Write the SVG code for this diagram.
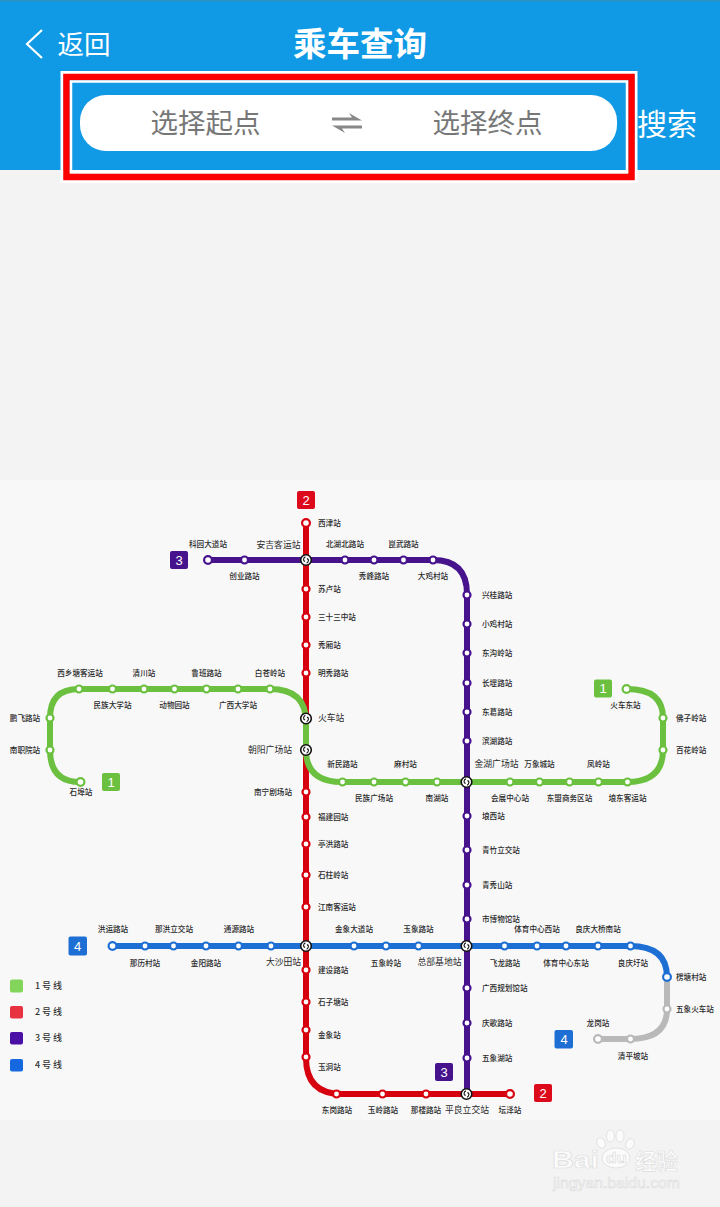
<svg xmlns="http://www.w3.org/2000/svg" width="720" height="1207" viewBox="0 0 720 1207">
<style>
text{font-family:"Noto Sans CJK SC","Liberation Sans",sans-serif;fill:#2a2a2a}
.l,.r,.e{font-size:7.6px;font-weight:500;dominant-baseline:central;transform:translateY(-1px)}
.l{text-anchor:middle}
.r{text-anchor:start}
.e{text-anchor:end}
.big{font-size:8.8px;font-weight:400}
.line{fill:none;stroke-width:6}
.s{stroke-width:2.2;fill:#fff}
.c1{stroke:#6cc040}.c2{stroke:#d7000f}.c3{stroke:#47138c}.c4{stroke:#1e6fd4}.c0{stroke:#b9b9b9}
.x{fill:#fff;stroke:#111;stroke-width:1.6}
.xi{fill:none;stroke:#111;stroke-width:1.1}
.badge{font-size:13px;font-family:"Liberation Sans",sans-serif;fill:#fff;text-anchor:middle;dominant-baseline:central}
.lg{font-size:9px;fill:#333;dominant-baseline:central;font-weight:500;transform:translateY(-1px)}
.hd{fill:#fff;text-anchor:middle;dominant-baseline:central}
.ph{fill:#777;font-size:27.5px;text-anchor:middle;dominant-baseline:central}
.wm{fill:#fbfbfb;stroke:#dcdcdc;stroke-width:.6;dominant-baseline:central}
</style>
<defs>
<g id="xfer"><circle r="5.3" class="x"/><path class="xi" d="M-.6-3.2C-3-2-3 1-.9 1.4M.6 3.2C3 2 3-1 .9-1.4"/></g>
</defs>
<rect width="720" height="1207" fill="#f3f3f3"/>
<rect y="480" width="720" height="640" fill="#f8f8f9"/>
<g id="header">
<rect width="720" height="170" fill="#109ae6"/>
<rect width="720" height="1.500" fill="#2a93c4"/>
<path d="M42 30 27 44 42 58" fill="none" stroke="#fff" stroke-width="2.200"/>
<text class="hd" x="84" y="42" font-size="26.500">返回</text>
<text class="hd" x="360" y="41.500" font-size="33.500" font-weight="700" style="fill:#fff">乘车查询</text>
<text class="hd" x="667" y="122" font-size="30">搜索</text>
</g>
<g id="search-box">
<rect x="62" y="72.500" width="574" height="109" fill="none" stroke="#fff" stroke-width="3"/>
<rect x="66.500" y="77" width="565" height="100" fill="none" stroke="#f00" stroke-width="6.500"/>
<rect x="71" y="81.500" width="556" height="90" fill="none" stroke="#fff" stroke-width="2.500"/>
<rect x="80" y="95" width="537" height="56" rx="26" fill="#fff"/>
<text class="ph" x="205.500" y="121">选择起点</text>
<text class="ph" x="487.500" y="121">选择终点</text>
<path d="M332 117.500H352L349 113 362 120.500H332ZM362 125.500H332L345 133 342 128.500H362Z" fill="#888"/>
</g>
<g id="connectors">
<path class="line c2" d="M306 523V1058Q306 1094 342 1094H510"/>
<path class="line c3" d="M208 560H433Q467 560 467 594V1094"/>
<path class="line c1" d="M80 782Q50 782 50 750V718Q50 689 79 689H270Q306 689 306 722V750Q306 782 342 782H627Q663 782 663 750V718Q663 689 627 689"/>
<path class="line c4" d="M112 946H630Q667 946 667 977"/>
<path class="line c0" d="M667 977V1009Q667 1039 630 1039H598"/>
</g>
<g id="badges">
<g id="badge-2a"><rect x="297" y="491" width="18" height="18" rx="2" fill="#dd0a1c"/><text class="badge" x="306" y="500">2</text></g>
<g id="badge-3a"><rect x="170" y="551" width="18" height="18" rx="2" fill="#47138c"/><text class="badge" x="179" y="560">3</text></g>
<g id="badge-1a"><rect x="102" y="773" width="18" height="18" rx="2" fill="#6cc040"/><text class="badge" x="111" y="782">1</text></g>
<g id="badge-1b"><rect x="594" y="679.500" width="18" height="18" rx="2" fill="#6cc040"/><text class="badge" x="603" y="688.500">1</text></g>
<g id="badge-4a"><rect x="68.500" y="936.500" width="18.500" height="19" rx="2" fill="#1e6fd4"/><text class="badge" x="77.500" y="946">4</text></g>
<g id="badge-4b"><rect x="554.500" y="1030" width="18.500" height="18.500" rx="2" fill="#1e6fd4"/><text class="badge" x="564" y="1039">4</text></g>
<g id="badge-3b"><rect x="435" y="1063" width="18" height="18" rx="2" fill="#47138c"/><text class="badge" x="444" y="1072">3</text></g>
<g id="badge-2b"><rect x="534" y="1084" width="18" height="18" rx="2" fill="#dd0a1c"/><text class="badge" x="543" y="1093">2</text></g>
</g>
<g id="legend">
<rect x="10" y="979.500" width="13" height="13" rx="2" fill="#82d45a"/><text class="lg" x="35" y="986" textLength="27">1 号 线</text>
<rect x="10" y="1006" width="13" height="12.500" rx="2" fill="#e8323f"/><text class="lg" x="35" y="1012.500" textLength="27">2 号 线</text>
<rect x="10" y="1032" width="13" height="12.500" rx="2" fill="#4a0fa5"/><text class="lg" x="35" y="1038.500" textLength="27">3 号 线</text>
<rect x="10" y="1059" width="13" height="12.500" rx="2" fill="#1668e0"/><text class="lg" x="35" y="1065" textLength="27">4 号 线</text>
</g>
<g id="line2-stations">
<g id="st-xijin"><circle class="s c2" cx="306" cy="523" r="3.900"/><text class="r" x="318" y="523">西津站</text></g>
<g id="st-sulu"><circle class="s c2" cx="306" cy="589" r="3.500"/><text class="r" x="318" y="589">苏卢站</text></g>
<g id="st-33"><circle class="s c2" cx="306" cy="617" r="3.500"/><text class="r" x="318" y="617">三十三中站</text></g>
<g id="st-xiuxiang"><circle class="s c2" cx="306" cy="645" r="3.500"/><text class="r" x="318" y="645">秀厢站</text></g>
<g id="st-mingxiu"><circle class="s c2" cx="306" cy="673" r="3.500"/><text class="r" x="318" y="673">明秀路站</text></g>
<g id="st-juchang"><circle class="s c2" cx="306" cy="792" r="3.500"/><text class="e" x="292" y="792">南宁剧场站</text></g>
<g id="st-fujian"><circle class="s c2" cx="306" cy="817" r="3.500"/><text class="r" x="318" y="817">福建园站</text></g>
<g id="st-tinghong"><circle class="s c2" cx="306" cy="844" r="3.500"/><text class="r" x="318" y="844">亭洪路站</text></g>
<g id="st-shizhu"><circle class="s c2" cx="306" cy="875" r="3.500"/><text class="r" x="318" y="875">石柱岭站</text></g>
<g id="st-jiangnan"><circle class="s c2" cx="306" cy="907" r="3.500"/><text class="r" x="318" y="907">江南客运站</text></g>
<g id="st-jianshe"><circle class="s c2" cx="306" cy="970" r="3.500"/><text class="r" x="318" y="970">建设路站</text></g>
<g id="st-shizitang"><circle class="s c2" cx="306" cy="1002" r="3.500"/><text class="r" x="318" y="1002">石子塘站</text></g>
<g id="st-jinxiang"><circle class="s c2" cx="306" cy="1030" r="3.500"/><text class="r" x="318" y="1035">金象站</text></g>
<g id="st-yudong"><circle class="s c2" cx="306" cy="1057" r="3.500"/><text class="r" x="318" y="1067">玉洞站</text></g>
<g id="st-donggang"><circle class="s c2" cx="336.500" cy="1094" r="3.500"/><text class="l" x="337" y="1110">东岗路站</text></g>
<g id="st-yuling"><circle class="s c2" cx="382.500" cy="1094" r="3.500"/><text class="l" x="383" y="1110">玉岭路站</text></g>
<g id="st-naliang"><circle class="s c2" cx="426" cy="1094" r="3.500"/><text class="l" x="426" y="1110">那楼路站</text></g>
<g id="st-tanze"><circle class="s c2" cx="510" cy="1094" r="3.900"/><text class="l" x="510" y="1110">坛泽站</text></g>
</g>
<g id="line3-stations">
<g id="st-keyuan"><circle class="s c3" cx="208" cy="560" r="3.900"/><text class="l" x="208" y="544">科园大道站</text></g>
<g id="st-chuangye"><circle class="s c3" cx="244.500" cy="560" r="3.500"/><text class="l" x="244.500" y="576">创业路站</text></g>
<g id="st-beihu"><circle class="s c3" cx="345" cy="560" r="3.500"/><text class="l" x="345" y="544">北湖北路站</text></g>
<g id="st-xiufeng"><circle class="s c3" cx="374" cy="560" r="3.500"/><text class="l" x="374" y="576">秀峰路站</text></g>
<g id="st-kunwu"><circle class="s c3" cx="403.500" cy="560" r="3.500"/><text class="l" x="403.500" y="544">崑武路站</text></g>
<g id="st-daji"><circle class="s c3" cx="433" cy="560" r="3.500"/><text class="l" x="433" y="576">大鸡村站</text></g>
<g id="st-xinggui"><circle class="s c3" cx="467" cy="595" r="3.500"/><text class="r" x="482" y="595">兴桂路站</text></g>
<g id="st-xiaoji"><circle class="s c3" cx="467" cy="624" r="3.500"/><text class="r" x="482" y="624">小鸡村站</text></g>
<g id="st-donggou"><circle class="s c3" cx="467" cy="653" r="3.500"/><text class="r" x="482" y="653">东沟岭站</text></g>
<g id="st-changgang"><circle class="s c3" cx="467" cy="683" r="3.500"/><text class="r" x="482" y="683">长堽路站</text></g>
<g id="st-dongge"><circle class="s c3" cx="467" cy="712" r="3.500"/><text class="r" x="482" y="712">东葛路站</text></g>
<g id="st-binhu"><circle class="s c3" cx="467" cy="741" r="3.500"/><text class="r" x="482" y="741">滨湖路站</text></g>
<g id="st-langxi"><circle class="s c3" cx="467" cy="816" r="3.500"/><text class="r" x="482" y="816">埌西站</text></g>
<g id="st-qingzhu"><circle class="s c3" cx="467" cy="850" r="3.500"/><text class="r" x="482" y="850">青竹立交站</text></g>
<g id="st-qingxiu"><circle class="s c3" cx="467" cy="885" r="3.500"/><text class="r" x="482" y="885">青秀山站</text></g>
<g id="st-bowuguan"><circle class="s c3" cx="467" cy="919" r="3.500"/><text class="r" x="482" y="919">市博物馆站</text></g>
<g id="st-guihua"><circle class="s c3" cx="467" cy="988" r="3.500"/><text class="r" x="482" y="988">广西规划馆站</text></g>
<g id="st-qingge"><circle class="s c3" cx="467" cy="1023" r="3.500"/><text class="r" x="482" y="1023">庆歌路站</text></g>
<g id="st-wuxianghu"><circle class="s c3" cx="467" cy="1058" r="3.500"/><text class="r" x="482" y="1058">五象湖站</text></g>
</g>
<g id="line1-stations">
<g id="st-shibu"><circle class="s c1" cx="80.500" cy="782" r="3.900"/><text class="l" x="81" y="792">石埠站</text></g>
<g id="st-nanzhi"><circle class="s c1" cx="50" cy="750" r="3.500"/><text class="l" x="25" y="750">南职院站</text></g>
<g id="st-pengfei"><circle class="s c1" cx="50" cy="718" r="3.500"/><text class="l" x="25" y="718">鹏飞路站</text></g>
<g id="st-xixiangtang"><circle class="s c1" cx="79" cy="689" r="3.500"/><text class="l" x="80" y="673">西乡塘客运站</text></g>
<g id="st-minda"><circle class="s c1" cx="112.500" cy="689" r="3.500"/><text class="l" x="112.500" y="705">民族大学站</text></g>
<g id="st-qingchuan"><circle class="s c1" cx="144" cy="689" r="3.500"/><text class="l" x="144" y="673">清川站</text></g>
<g id="st-dongwuyuan"><circle class="s c1" cx="174.500" cy="689" r="3.500"/><text class="l" x="174.500" y="705">动物园站</text></g>
<g id="st-luban"><circle class="s c1" cx="206.500" cy="689" r="3.500"/><text class="l" x="206.500" y="673">鲁班路站</text></g>
<g id="st-guangda"><circle class="s c1" cx="238" cy="689" r="3.500"/><text class="l" x="238" y="705">广西大学站</text></g>
<g id="st-baicang"><circle class="s c1" cx="270" cy="689" r="3.500"/><text class="l" x="270" y="673">白苍岭站</text></g>
<g id="st-xinmin"><circle class="s c1" cx="342.500" cy="782" r="3.500"/><text class="l" x="342.500" y="764">新民路站</text></g>
<g id="st-minguang"><circle class="s c1" cx="374" cy="782" r="3.500"/><text class="l" x="374" y="798">民族广场站</text></g>
<g id="st-macun"><circle class="s c1" cx="405.500" cy="782" r="3.500"/><text class="l" x="405.500" y="764">麻村站</text></g>
<g id="st-nanhu"><circle class="s c1" cx="437" cy="782" r="3.500"/><text class="l" x="437" y="798">南湖站</text></g>
<g id="st-huizhan"><circle class="s c1" cx="510" cy="782" r="3.500"/><text class="l" x="510" y="798">会展中心站</text></g>
<g id="st-wanxiang"><circle class="s c1" cx="539.500" cy="782" r="3.500"/><text class="l" x="539.500" y="764">万象城站</text></g>
<g id="st-dongmeng"><circle class="s c1" cx="569.500" cy="782" r="3.500"/><text class="l" x="569.500" y="798">东盟商务区站</text></g>
<g id="st-fengling"><circle class="s c1" cx="598.500" cy="782" r="3.500"/><text class="l" x="598.500" y="764">凤岭站</text></g>
<g id="st-langdong"><circle class="s c1" cx="627.500" cy="782" r="3.500"/><text class="l" x="627.500" y="798">埌东客运站</text></g>
<g id="st-baihua"><circle class="s c1" cx="663" cy="750" r="3.500"/><text class="r" x="676" y="750">百花岭站</text></g>
<g id="st-fozi"><circle class="s c1" cx="663" cy="718" r="3.500"/><text class="r" x="676" y="718">佛子岭站</text></g>
<g id="st-huochedong"><circle class="s c1" cx="626.500" cy="689" r="3.900"/><text class="l" x="625.500" y="705">火车东站</text></g>
</g>
<g id="line4-stations">
<g id="st-hongyun"><circle class="s c4" cx="112.500" cy="946" r="3.900"/><text class="l" x="113" y="929">洪运路站</text></g>
<g id="st-nali"><circle class="s c4" cx="145" cy="946" r="3.500"/><text class="l" x="145" y="963">那历村站</text></g>
<g id="st-nahong"><circle class="s c4" cx="173.500" cy="946" r="3.500"/><text class="l" x="174" y="929">那洪立交站</text></g>
<g id="st-jinyang"><circle class="s c4" cx="206" cy="946" r="3.500"/><text class="l" x="206" y="963">金阳路站</text></g>
<g id="st-tongyuan"><circle class="s c4" cx="238.500" cy="946" r="3.500"/><text class="l" x="239" y="929">通源路站</text></g>
<g id="st-x271"><circle class="s c4" cx="271" cy="946" r="3.500"/></g>
<g id="st-jinxiangdadao"><circle class="s c4" cx="354" cy="946" r="3.500"/><text class="l" x="354" y="929">金象大道站</text></g>
<g id="st-wuxiangling"><circle class="s c4" cx="386" cy="946" r="3.500"/><text class="l" x="386" y="963">五象岭站</text></g>
<g id="st-yuxiang"><circle class="s c4" cx="418.500" cy="946" r="3.500"/><text class="l" x="418.500" y="929">玉象路站</text></g>
<g id="st-feilong"><circle class="s c4" cx="504.500" cy="946" r="3.500"/><text class="l" x="505" y="963">飞龙路站</text></g>
<g id="st-tixi"><circle class="s c4" cx="537" cy="946" r="3.500"/><text class="l" x="537" y="929">体育中心西站</text></g>
<g id="st-tidong"><circle class="s c4" cx="566" cy="946" r="3.500"/><text class="l" x="566" y="963">体育中心东站</text></g>
<g id="st-liangqiao"><circle class="s c4" cx="598" cy="946" r="3.500"/><text class="l" x="598" y="929">良庆大桥南站</text></g>
<g id="st-liangqing"><circle class="s c4" cx="630.500" cy="946" r="3.500"/><text class="l" x="633" y="963">良庆圩站</text></g>
<g id="st-lengtang"><circle class="s c4" cx="667" cy="977" r="3.900"/><text class="r" x="676" y="977">楞塘村站</text></g>
<g id="st-wuxianghc"><circle class="s c0" cx="667" cy="1009" r="3.500"/><text class="r" x="676" y="1009">五象火车站</text></g>
<g id="st-qingping"><circle class="s c0" cx="630.500" cy="1039" r="3.500"/><text class="l" x="633" y="1056">清平坡站</text></g>
<g id="st-longgang"><circle class="s c0" cx="598" cy="1039" r="3.900"/><text class="l" x="598" y="1023">龙岗站</text></g>
</g>
<g id="interchanges">
<g id="st-anji"><use href="#xfer" x="306" y="560"/><text class="l big" x="278.500" y="545">安吉客运站</text></g>
<g id="st-huoche"><use href="#xfer" x="306" y="718.500"/><text class="r big" x="318" y="718.500">火车站</text></g>
<g id="st-chaoyang"><use href="#xfer" x="306" y="750"/><text class="e big" x="292" y="750">朝阳广场站</text></g>
<g id="st-jinhu"><use href="#xfer" x="466.500" y="782"/><text class="l big" x="496.500" y="764">金湖广场站</text></g>
<g id="st-dashatian"><use href="#xfer" x="306" y="946"/><text class="l big" x="283.500" y="962">大沙田站</text></g>
<g id="st-zongbu"><use href="#xfer" x="466.500" y="946"/><text class="l big" x="439.500" y="962">总部基地站</text></g>
<g id="st-pingliang"><use href="#xfer" x="466.500" y="1094"/><text class="l big" x="467" y="1110">平良立交站</text></g>
</g>
<g id="watermark">
<g fill="#fbfbfb" stroke="#dcdcdc" stroke-width=".8">
<ellipse cx="601" cy="1143" rx="4" ry="5.500" transform="rotate(-25 601 1143)"/>
<ellipse cx="610.500" cy="1136" rx="4" ry="6"/>
<ellipse cx="620" cy="1136" rx="4" ry="6"/>
<ellipse cx="630" cy="1144" rx="4" ry="5.500" transform="rotate(25 630 1144)"/>
<ellipse cx="616" cy="1158" rx="14" ry="10"/>
</g>
<text class="wm" x="552" y="1160" font-size="23" font-weight="700" textLength="47" lengthAdjust="spacingAndGlyphs" style="font-family:'Liberation Sans',sans-serif">Bai</text>
<text class="wm" x="606" y="1157.500" font-size="15" font-weight="700" textLength="21" lengthAdjust="spacingAndGlyphs" style="font-family:'Liberation Sans',sans-serif">du</text>
<text class="wm" x="635" y="1159" font-size="21.500" font-weight="700">经验</text>
<text class="wm" x="553" y="1183" font-size="14.500" textLength="127" lengthAdjust="spacingAndGlyphs" style="font-family:'Liberation Sans',sans-serif">jingyan.baidu.com</text>
</g>
</svg>
